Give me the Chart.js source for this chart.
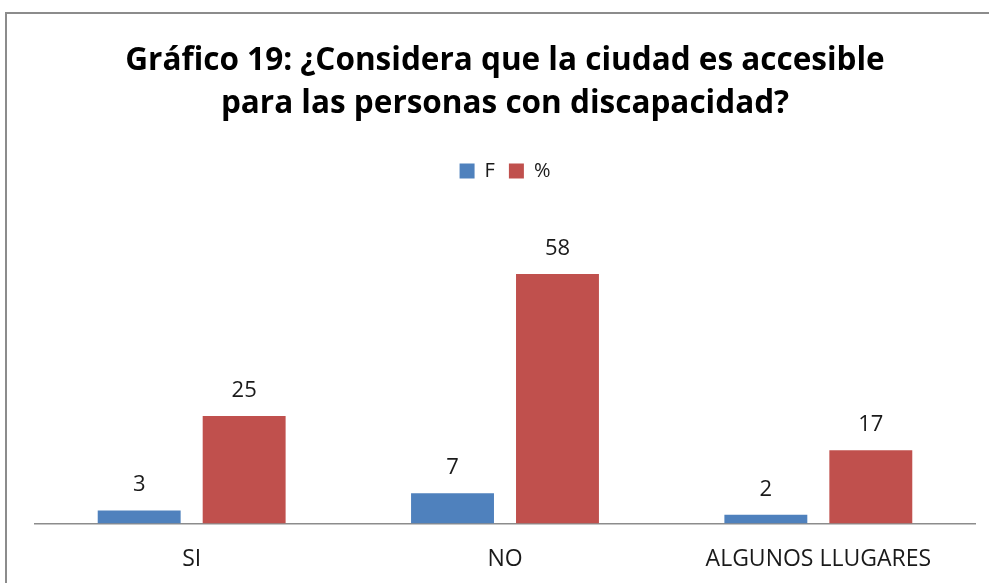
<!DOCTYPE HTML><html>
<head>
  <meta charset="utf-8">
  <title>Gráfico 19</title>
  <meta name="viewport" content="width=device-width, initial-scale=1">
  <style>
  html, body {
    margin: 0;
    background: #fff;
    overflow: hidden;
  }
  .frame {
    position: absolute;
    left: 5px;
    top: 12px;
    width: 1100px;
    height: 700px;
    border-left: 2px solid #8c8c8c;
    border-top: 2px solid #8c8c8c;
  }
  .container {
    position: absolute;
    left: 0;
    top: 0;
    width: 1010px;
    height: 609px;
  }
  </style>
  <script src="https://cdn.jsdelivr.net/npm/chart.js"></script>
<script>
  var categories = ['SI', 'NO', 'ALGUNOS LLUGARES'];
  var valuesF = [3, 7, 2];
  var valuesPct = [25, 58, 17];
  var titleLines = ['Gráfico 19: ¿Considera que la ciudad es accesible', 'para las personas con discapacidad?'];

  var fontName = "'Open Sans', 'Noto Sans', sans-serif";

  // draws the value above every bar
  var valueLabels = {
    id: 'valueLabels',
    afterDatasetsDraw: function(chart) {
      var ctx = chart.ctx;
      ctx.save();
      ctx.font = '22px ' + fontName;
      ctx.fillStyle = '#1a1a1a';
      ctx.textAlign = 'center';
      ctx.textBaseline = 'alphabetic';
      chart.data.datasets.forEach(function(ds, i) {
        chart.getDatasetMeta(i).data.forEach(function(bar, j) {
          ctx.fillText(ds.data[j], bar.x, bar.y - 19);
        });
      });
      ctx.restore();
    }
  };

  window.addEventListener('load', function() {
    new Chart(document.getElementById('chart'), {
      type: 'bar',
      data: {
        labels: categories,
        datasets: [{
          label: 'F',
          data: valuesF,
          backgroundColor: '#4F81BD'
        }, {
          label: '%',
          data: valuesPct,
          backgroundColor: '#C0504D'
        }]
      },
      options: {
        responsive: false,
        animation: false,
        layout: {padding: {left: 35, right: 35, bottom: 14}},
        datasets: {bar: {categoryPercentage: 0.67, barPercentage: 0.79}},
        plugins: {
          title: {
            display: true,
            text: titleLines,
            color: '#000',
            font: {family: fontName, size: 31.5, weight: 'bold', lineHeight: 1.365},
            padding: {top: 40, bottom: 21}
          },
          legend: {
            labels: {
              color: '#1a1a1a',
              font: {family: fontName, size: 20},
              boxWidth: 15,
              boxHeight: 15,
              padding: 14
            }
          },
          tooltip: {enabled: false}
        },
        scales: {
          x: {
            grid: {display: false, drawTicks: false},
            border: {display: true, color: '#8c8c8c', width: 1.5},
            ticks: {color: '#1a1a1a', font: {family: fontName, size: 23}, padding: 22}
          },
          y: {
            display: false,
            min: 0,
            max: 77.3
          }
        }
      },
      plugins: [valueLabels]
    });
  });
</script>
</head>
<body>
  <div class="frame"></div>
  <div class="container">
    <canvas id="chart" width="1010" height="609"></canvas>
  </div>
</body>
</html>
